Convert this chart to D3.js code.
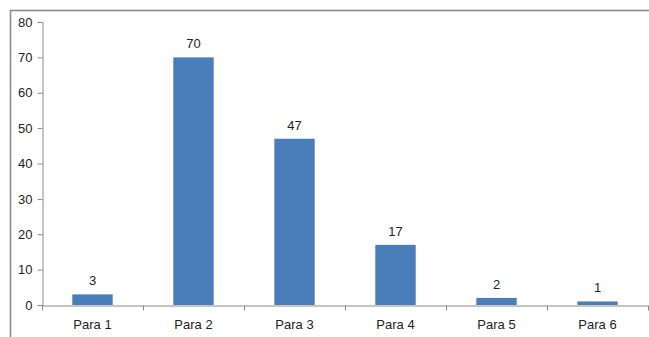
<!DOCTYPE html>
<html>
<head>
<meta charset="utf-8">
<script src="https://cdn.jsdelivr.net/npm/d3@7"></script>
<style>
  html, body { margin: 0; padding: 0; background: #fff; }
  svg { display: block; }
  text { font-family: "Liberation Sans", Arial, sans-serif; }
</style>
</head>
<body>
<svg id="chart" width="649" height="337"></svg>
<script>
// Paragraph counts
const categories = ["Para 1", "Para 2", "Para 3", "Para 4", "Para 5", "Para 6"];
const values = [3, 70, 47, 17, 2, 1];
const yTicks = [0, 10, 20, 30, 40, 50, 60, 70, 80];

const W = 649, H = 337;
const margin = { left: 42, right: 1, top: 22, bottom: 32 };
const svg = d3.select("#chart");

// outer chart frame (runs off the right and bottom edges)
svg.append("rect")
  .attr("x", 10.5).attr("y", 10.5)
  .attr("width", W + 20).attr("height", H + 20)
  .attr("fill", "none").attr("stroke", "#8a8a8a").attr("stroke-width", 1.6);

const x = d3.scaleBand()
  .domain(categories)
  .range([margin.left, W - margin.right])
  .paddingInner(0.6).paddingOuter(0.3);

const y = d3.scaleLinear().domain([0, 80]).range([H - margin.bottom, margin.top]);

// bars
svg.append("g").selectAll("rect")
  .data(values)
  .join("rect")
  .attr("x", (d, i) => x(categories[i]))
  .attr("y", d => y(d))
  .attr("width", x.bandwidth())
  .attr("height", d => y(0) - y(d))
  .attr("fill", "#4a7ebb");

// value labels
svg.append("g").selectAll("text")
  .data(values)
  .join("text")
  .attr("x", (d, i) => x(categories[i]) + x.bandwidth() / 2)
  .attr("y", d => y(d) - 9)
  .attr("text-anchor", "middle")
  .attr("font-size", 13)
  .attr("fill", "#222")
  .text(d => d);

// y axis
const yAxis = svg.append("g")
  .attr("transform", `translate(${margin.left + 0.5},0)`)
  .call(d3.axisLeft(y).tickValues(yTicks).tickSize(5).tickPadding(5));
yAxis.select(".domain").attr("stroke", "#8a8a8a");
yAxis.selectAll(".tick line").attr("stroke", "#8a8a8a");
yAxis.selectAll(".tick text").attr("font-size", 13).attr("fill", "#222")
  .attr("font-family", "Liberation Sans, Arial, sans-serif");

// x axis with ticks at category boundaries
const step = (W - margin.right - margin.left) / categories.length;
const xAxis = svg.append("g")
  .attr("transform", `translate(0,${y(0) + 0.5})`)
  .call(d3.axisBottom(x).tickSize(0).tickPadding(14));
xAxis.select(".domain").attr("stroke", "#8a8a8a");
xAxis.selectAll(".tick text").attr("font-size", 13).attr("fill", "#222")
  .attr("font-family", "Liberation Sans, Arial, sans-serif");
xAxis.selectAll(".boundary")
  .data(d3.range(categories.length + 1))
  .join("line")
  .attr("class", "boundary")
  .attr("x1", i => margin.left + 0.5 + i * step)
  .attr("x2", i => margin.left + 0.5 + i * step)
  .attr("y1", 0).attr("y2", 5)
  .attr("stroke", "#8a8a8a");
</script>
</body>
</html>
